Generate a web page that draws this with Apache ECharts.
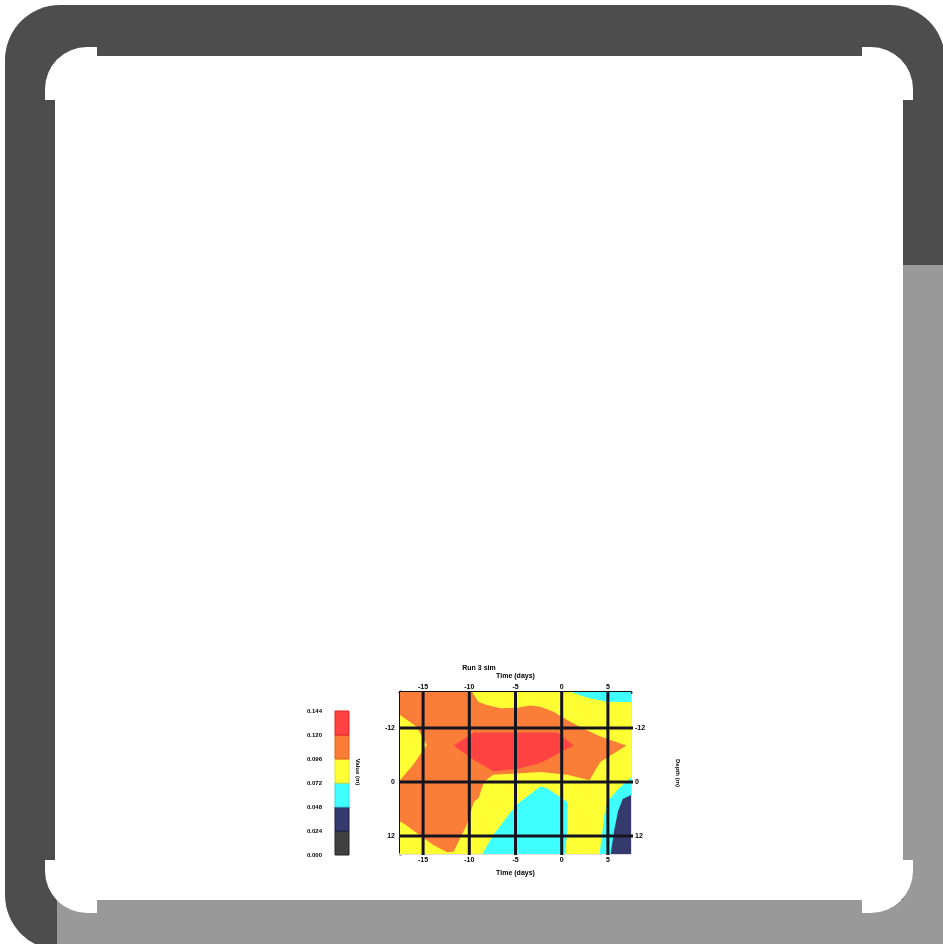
<!DOCTYPE html>
<html><head><meta charset="utf-8">
<script src="https://cdn.jsdelivr.net/npm/echarts@6/dist/echarts.min.js"></script>
<style>html,body{margin:0;padding:0;background:#fff}#c{width:943px;height:944px}</style>
</head><body><div id="c"></div>
<script>
// ---- data ----
const xTickValues = [-15, -10, -5, 0, 5];
const yTickValues = [-12, 0, 12];
const xRange = [-17.5, 7.5];
const yRange = [-20, 16];
const colorbarLabels = ["0.000", "0.024", "0.048", "0.072", "0.096", "0.120", "0.144"];
const levelColors = ['#404040', '#343a6c', '#40ffff', '#ffff33', '#fb7e38', '#ff4343'];
const levelStrokes = ['#222222', '#1a1f4a', '#30d8d8', '#e0e020', '#e06020', '#e02020'];
const titleText = "Run 3 sim";
const xAxisTitle = "Time (days)";
const rightAxisTitle = "Depth (m)";
const colorbarTitle = "Value (m)";

// contour regions, in data coordinates (level index into levelColors)
const yellowRegion = [[-17.5, -20], [7.5, -20], [7.5, 16], [-17.5, 16]];
const orangeRegion = [[-17.5, -20], [-9.7, -20], [-9.0, -17.8], [-8.1, -17.1], [-6.6, -16.4], [-4.8, -16.5],
  [-3.4, -17.0], [-2.3, -16.7], [-0.9, -15.6], [0.6, -13.8], [2.1, -12.1], [4.2, -10.1], [7.0, -8.1],
  [4.2, -4.5], [3.0, -0.4], [0.6, -1.6], [-2.3, -2.2], [-4.8, -1.9], [-7.4, -1.6], [-8.4, -0.1],
  [-9.0, 3.6], [-9.5, 4.4], [-10.3, 9.6], [-11.7, 15.5], [-12.4, 15.6], [-13.9, 14.0], [-16.4, 10.3],
  [-17.1, 9.2], [-17.5, 8.8], [-17.5, -0.4], [-16.1, -3.8], [-14.6, -8.2], [-15.7, -12.3], [-17.5, -14.9]];
const redRegion = [[-11.7, -8.1], [-9.5, -11.0], [-0.5, -11.0], [1.3, -8.1], [-2.3, -4.2], [-4.8, -2.9],
  [-7.4, -2.4], [-9.5, -4.9]];
const cyanTopRegion = [[1.0, -20], [7.5, -20], [7.5, -17.8], [5.0, -17.8], [2.8, -18.7]];
const cyanCenterRegion = [[-8.6, 16], [-7.4, 11.8], [-5.5, 6.6], [-4.5, 4.4], [-2.3, 1.0], [-1.6, 1.4],
  [0.6, 4.4], [0.6, 10.3], [0.4, 16]];
const cyanRightRegion = [[7.5, -1.0], [6.1, 1.6], [5.0, 4.2], [4.6, 7.5], [4.4, 11], [4.1, 16], [7.5, 16]];
const navyRegion = [[7.5, 2.9], [6.6, 3.8], [6.1, 6.5], [5.7, 10.5], [5.3, 16], [7.5, 16]];

const regions = [
  { level: 3, pts: yellowRegion },
  { level: 4, pts: orangeRegion },
  { level: 5, pts: redRegion },
  { level: 2, pts: cyanTopRegion },
  { level: 2, pts: cyanCenterRegion },
  { level: 2, pts: cyanRightRegion },
  { level: 1, pts: navyRegion }
];

// ---- chart ----
const chart = echarts.init(document.getElementById('c'), null, { renderer: 'canvas' });
const font = { fontFamily: 'Liberation Sans', fontWeight: 'bold', color: '#000' };

function mainXAxis(pos, dark) {
  return {
    type: 'value', gridIndex: 0, position: pos, min: xRange[0], max: xRange[1], interval: 2.5,
    axisLine: { show: true, onZero: false, lineStyle: { color: dark ? '#111' : '#e6dcdc', width: dark ? 3 : 2 } },
    axisTick: { show: false, inside: true },
    minorTick: { show: true, splitNumber: 5, length: 4, lineStyle: { color: '#ffffff', width: 1 } },
    splitLine: { show: false },
    axisLabel: Object.assign({ fontSize: 7, margin: pos === 'top' ? 1 : 3,
      formatter: v => (xTickValues.indexOf(v) >= 0 ? String(v) : '') }, font),
    name: xAxisTitle, nameLocation: 'middle', nameGap: pos === 'top' ? 12 : 16,
    nameTextStyle: Object.assign({ fontSize: 7 }, font)
  };
}
function mainYAxis(pos, dark) {
  return {
    type: 'value', gridIndex: 0, position: pos, min: yRange[0], max: yRange[1], interval: 4, inverse: true,
    axisLine: { show: true, onZero: false, lineStyle: { color: dark ? '#111' : '#e6dcdc', width: dark ? 3 : 2 } },
    axisTick: { show: false, inside: true },
    minorTick: { show: true, splitNumber: 4, length: 4, lineStyle: { color: '#ffffff', width: 1 } },
    splitLine: { show: false },
    axisLabel: Object.assign({ fontSize: 7, margin: pos === 'left' ? 5 : 4,
      formatter: v => (yTickValues.indexOf(v) >= 0 ? String(v) : '') }, font),
    name: pos === 'right' ? rightAxisTitle : '', nameLocation: 'middle', nameGap: 44, nameRotate: -90,
    nameTextStyle: Object.assign({ fontSize: 6 }, font)
  };
}

const option = {
  animation: false,
  backgroundColor: '#ffffff',
  graphic: [
    { type: 'rect', z: -20, shape: { x: 5, y: 5, width: 940, height: 945, r: 55 }, style: { fill: '#4d4d4d' } },
    { type: 'rect', z: -19, shape: { x: 903, y: 265, width: 50, height: 700 }, style: { fill: '#999999' } },
    { type: 'rect', z: -19, shape: { x: 57, y: 900, width: 900, height: 50 }, style: { fill: '#999999' } },
    { type: 'rect', z: -18, shape: { x: 45, y: 47, width: 868, height: 866, r: 42 }, style: { fill: '#ffffff' } },
    { type: 'rect', z: -17, shape: { x: 97, y: 46, width: 765, height: 10 }, style: { fill: '#4d4d4d' } },
    { type: 'rect', z: -17, shape: { x: 44, y: 100, width: 11, height: 760 }, style: { fill: '#4d4d4d' } },
    { type: 'rect', z: -17, shape: { x: 903, y: 100, width: 11, height: 165 }, style: { fill: '#4d4d4d' } },
    { type: 'rect', z: -17, shape: { x: 903, y: 265, width: 11, height: 595 }, style: { fill: '#999999' } },
    { type: 'rect', z: -17, shape: { x: 97, y: 900, width: 765, height: 14 }, style: { fill: '#999999' } },
    { type: 'text', z: 10, x: 479, y: 668, style: { text: titleText, align: 'center', verticalAlign: 'middle',
      font: 'bold 7px "Liberation Sans"', fill: '#000' } },
    { type: 'text', z: 10, x: 358, y: 772, rotation: -Math.PI / 2, style: { text: colorbarTitle, align: 'center',
      verticalAlign: 'middle', font: 'bold 6px "Liberation Sans"', fill: '#000' } }
  ],
  grid: [
    { left: 400, top: 692, width: 231, height: 162 },
    { left: 335, top: 711, width: 14, height: 144 }
  ],
  xAxis: [
    mainXAxis('bottom', false),
    mainXAxis('top', true),
    { type: 'value', gridIndex: 1, min: 0, max: 1, show: false }
  ],
  yAxis: [
    mainYAxis('left', true),
    mainYAxis('right', false),
    {
      type: 'value', gridIndex: 1, min: 0, max: 6, interval: 1, position: 'left',
      axisLine: { show: false }, axisTick: { show: false }, splitLine: { show: false },
      axisLabel: Object.assign({ fontSize: 6, margin: 13, formatter: v => colorbarLabels[v] }, font)
    }
  ],
  series: [
    {
      type: 'custom', name: 'contour', xAxisIndex: 0, yAxisIndex: 0, clip: true, silent: true,
      data: regions.map(r => r.pts[0]),
      renderItem: (params, api) => {
        const r = regions[params.dataIndex];
        return { type: 'polygon', shape: { points: r.pts.map(p => api.coord(p)) },
          style: { fill: levelColors[r.level], stroke: null } };
      }
    },
    {
      type: 'custom', name: 'vgrid', xAxisIndex: 0, yAxisIndex: 0, silent: true, z: 5,
      data: xTickValues.map(v => [v, yRange[0]]),
      renderItem: (params, api) => {
        const v = api.value(0);
        const a = api.coord([v, yRange[0]]), b = api.coord([v, yRange[1]]);
        return { type: 'line', shape: { x1: a[0], y1: a[1] - 1, x2: b[0], y2: b[1] + 1 },
          style: { stroke: '#141420', lineWidth: 3 } };
      }
    },
    {
      type: 'custom', name: 'hgrid', xAxisIndex: 0, yAxisIndex: 0, silent: true, z: 5,
      data: yTickValues.map(v => [xRange[0], v]),
      renderItem: (params, api) => {
        const v = api.value(1);
        const a = api.coord([xRange[0], v]), b = api.coord([xRange[1], v]);
        return { type: 'line', shape: { x1: a[0] - 1, y1: a[1], x2: b[0] + 2, y2: b[1] },
          style: { stroke: '#141420', lineWidth: 3 } };
      }
    },
    {
      type: 'custom', name: 'colorbar', xAxisIndex: 2, yAxisIndex: 2, silent: true,
      data: levelColors.map((c, i) => [0, i]),
      renderItem: (params, api) => {
        const i = api.value(1);
        const a = api.coord([0, i + 1]), b = api.coord([1, i]);
        return { type: 'rect', shape: { x: a[0], y: a[1], width: b[0] - a[0], height: b[1] - a[1] },
          style: { fill: levelColors[i], stroke: levelStrokes[i], lineWidth: 1 } };
      }
    }
  ]
};
chart.setOption(option);
</script>
</body></html>
